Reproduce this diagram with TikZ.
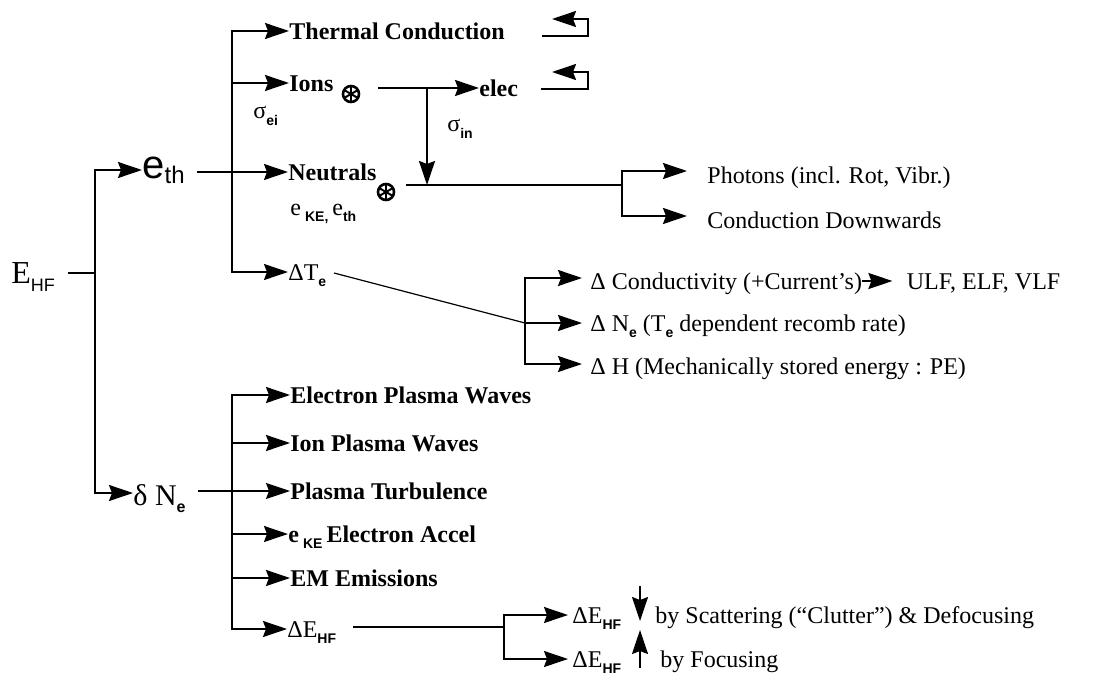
\documentclass[tikz,border=0pt]{standalone}
\usepackage{fontspec}
\setmainfont{Liberation Serif}
\setsansfont{Liberation Sans}
\usetikzlibrary{arrows.meta, positioning}

% small bold sans subscripts
\newcommand{\lsub}[1]{\raisebox{-0.55ex}{\fontsize{7}{8}\selectfont\sffamily\bfseries #1}}

\tikzset{
  leaf/.style={anchor=west, inner sep=0pt, text height=8.2pt, text depth=0pt,
    font=\fontsize{12}{14}\selectfont\bfseries},
  remark/.style={anchor=west, inner sep=0pt, text height=8.2pt, text depth=0pt,
    font=\fontsize{12}{14}\selectfont},
  link/.style={line width=1pt},
  faint link/.style={line width=0.6pt},
  flow/.style={line width=1pt, -{Stealth[length=12pt, width=8pt, inset=1.5pt]}},
  fork/.style={line width=1pt,
    {Stealth[length=12pt, width=8pt, inset=1.5pt]}-{Stealth[length=12pt, width=8pt, inset=1.5pt]}},
  collide/.style={circle, draw, line width=1.3pt, minimum size=8pt, inner sep=0pt,
    path picture={
      \foreach \a in {90, 30, -30}
        \draw[line width=1pt] (path picture bounding box.center) ++(\a:4.5pt) -- ++(\a+180:9pt);
    }},
}

\begin{document}
\begin{tikzpicture}[x=0.5pt, y=-0.5pt]
  \useasboundingbox (0,0) rectangle (1112,674);

  % Roots
  \node[anchor=base west, inner sep=0pt, font=\fontsize{16}{18}\selectfont] (ehf) at (11,283)
    {E\raisebox{-4pt}{\fontsize{9}{10}\selectfont\sffamily HF}};
  \node[anchor=base west, inner sep=0pt, font=\fontsize{20}{22}\selectfont\sffamily] (eth) at (142,178)
    {e\raisebox{-2.5pt}{\fontsize{12}{13}\selectfont th}};
  \node[anchor=base west, inner sep=0pt, font=\fontsize{15}{17}\selectfont] (dne) at (133,505)
    {δ N\raisebox{-3.5pt}{\fontsize{8}{9}\selectfont\sffamily\bfseries e}};

  \coordinate (ehfout) at (68,273);
  \coordinate (b1t)    at (95,170);
  \coordinate (b1b)    at (95,493);
  \draw[faint link] (ehfout) -- (ehfout -| b1t);
  \draw[fork] (b1t -| eth.west) -- (b1t) -- (b1b) -- (b1b -| dne.west);

  % Thermal electron branches
  \node[leaf]   (thermal)  at (289,31)  {Thermal Conduction};
  \node[leaf]   (ions)     at (289,83)  {Ions};
  \node[leaf]   (neutrals) at (288,172) {Neutrals};
  \node[remark] (dte)      at (288,272) {ΔT\lsub{e}};

  \coordinate (b2t)    at (232,31);
  \coordinate (b2b)    at (232,272);
  \coordinate (ethout) at (197,172);
  \draw[fork] (b2t -| thermal.west) -- (b2t) -- (b2b) -- (b2b -| dte.west);
  \draw[flow] (b2t |- ions.west) -- (ions.west);
  \draw[flow] (ethout) -- (neutrals.west);

  \node[anchor=base west, inner sep=0pt, font=\fontsize{12}{14}\selectfont] (sigei) at (253,119) {σ\lsub{ei}};
  \node[collide] (ionsx) at (351,94) {};
  \node[collide] (neutx) at (386,192) {};
  \node[anchor=base west, inner sep=0pt, font=\fontsize{12}{14}\selectfont] (eken) at (290,215)
    {e\,\lsub{KE,}\,e\lsub{th}};

  % Ions to electrons, and down to neutrals
  \node[leaf] (elec) at (479,88) {elec};
  \node[anchor=base west, inner sep=0pt, font=\fontsize{12}{14}\selectfont] (sigin) at (447,132) {σ\lsub{in}};
  \coordinate (ionsout) at (378,88);
  \coordinate (drop)    at (427,88);
  \coordinate (nline)   at (406,185);
  \coordinate (b4t)     at (622,171);
  \coordinate (b4b)     at (622,216);
  \draw[flow] (ionsout) -- (elec.west);
  \draw[flow] (drop) -- (drop |- nline);
  \draw[link] (nline) -- (nline -| b4t);

  \node[remark] (photons) at (707,175) {Photons (incl. Rot, Vibr.)};
  \node[remark] (downw)   at (707,220) {Conduction Downwards};
  \draw[fork, shorten <=10pt, shorten >=10pt] (b4t -| photons.west) -- (b4t) -- (b4b) -- (b4b -| downw.west);

  % Return marks
  \coordinate (ret1) at (542,36);
  \coordinate (ret2) at (541,89);
  \draw[flow] (ret1) -- ++(46,0) -- ++(0,-17) -- ++(-36,0);
  \draw[flow] (ret2) -- ++(47,0) -- ++(0,-17) -- ++(-36,0);

  % Electron temperature effects
  \coordinate (dteout) at (334,273);
  \coordinate (b5t)    at (525,278);
  \coordinate (b5b)    at (525,364);
  \node[remark] (cond)  at (590,281) {Δ Conductivity (+Current's)};
  \node[remark, right=22pt of cond] (ulf) {ULF, ELF, VLF};
  \node[remark] (nrate) at (590,323) {Δ N\lsub{e} (T\lsub{e} dependent recomb rate)};
  \node[remark] (dh)    at (590,366) {Δ H (Mechanically stored energy : PE)};
  \draw[fork, shorten <=4pt, shorten >=4pt] (b5t -| cond.west) -- (b5t) -- (b5b) -- (b5b -| dh.west);
  \draw[flow, shorten >=4pt] (b5t |- nrate.west) -- (nrate.west);
  \draw[faint link] (dteout) -- (b5t |- nrate.west);
  \draw[flow, shorten >=7pt] (cond.east) -- (ulf.west);

  % Density perturbation branches
  \node[leaf]   (epw)  at (290,395) {Electron Plasma Waves};
  \node[leaf]   (ipw)  at (290,443) {Ion Plasma Waves};
  \node[leaf]   (turb) at (290,491) {Plasma Turbulence};
  \node[leaf]   (eke)  at (288,534) {e\,\lsub{KE}\,Electron Accel};
  \node[leaf]   (emw)  at (290,578) {EM Emissions};
  \node[remark] (dehf) at (287,629) {ΔE\lsub{HF}};

  \coordinate (b3t)    at (232,395);
  \coordinate (b3b)    at (232,629);
  \coordinate (dneout) at (198,491);
  \draw[fork] (b3t -| epw.west) -- (b3t) -- (b3b) -- (b3b -| dehf.west);
  \foreach \n in {ipw, eke, emw}
    \draw[flow] (b3t |- \n.west) -- (\n.west);
  \draw[flow, line width=0.6pt] (dneout) -- (turb.west);

  % HF energy change
  \coordinate (dehfout) at (353,627);
  \coordinate (b6t)     at (504,615);
  \coordinate (b6b)     at (504,659);
  \node[remark] (scat) at (572,615) {ΔE\lsub{HF}};
  \node[remark] (foc)  at (572,659) {ΔE\lsub{HF}};
  \draw[link] (dehfout) -- (dehfout -| b6t);
  \draw[fork, shorten <=2pt, shorten >=2pt] (b6t -| scat.west) -- (b6t) -- (b6b) -- (b6b -| foc.west);

  \coordinate (dnA) at (640,586);
  \coordinate (dnB) at (640,621);
  \coordinate (upA) at (640,668);
  \coordinate (upB) at (640,630);
  \draw[flow, line width=0.8pt] (dnA) -- (dnB);
  \draw[flow, line width=0.8pt] (upA) -- (upB);
  \node[remark] (byscat) at (655,615) {by Scattering (“Clutter”) \& Defocusing};
  \node[remark] (byfoc)  at (660,659) {by Focusing};

\end{tikzpicture}
\end{document}
